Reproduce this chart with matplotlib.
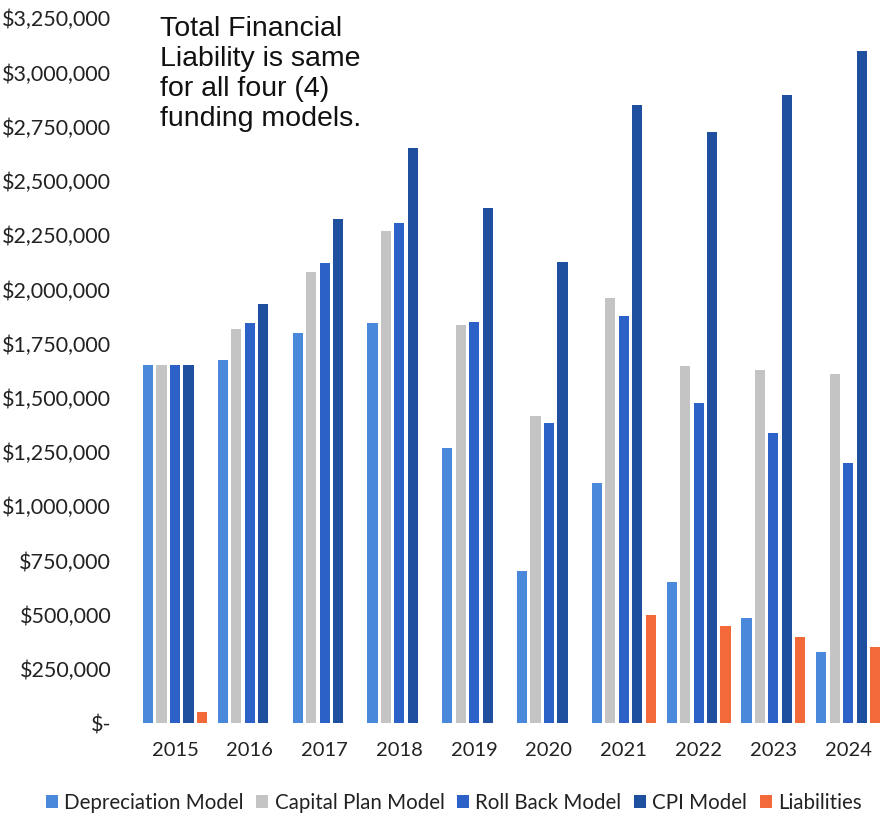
import matplotlib
matplotlib.use("Agg")
import matplotlib.pyplot as plt
from matplotlib.ticker import FuncFormatter, MultipleLocator
import numpy as np

years = ["2015", "2016", "2017", "2018", "2019", "2020", "2021", "2022", "2023", "2024"]

depreciation = [1650000, 1674000, 1797000, 1843000, 1267000, 702000, 1105000, 652000, 483000, 329000]
capital_plan = [1650000, 1817000, 2082000, 2269000, 1836000, 1416000, 1962000, 1648000, 1628000, 1610000]
roll_back = [1650000, 1846000, 2120000, 2305000, 1850000, 1385000, 1877000, 1474000, 1336000, 1198000]
cpi = [1650000, 1931000, 2325000, 2654000, 2374000, 2125000, 2850000, 2727000, 2897000, 3101000]
liabilities = [52000, 0, 0, 0, 0, 0, 498000, 447000, 398000, 352000]

series_names = ["Depreciation Model", "Capital Plan Model", "Roll Back Model", "CPI Model", "Liabilities"]
series_values = [depreciation, capital_plan, roll_back, cpi, liabilities]
colors = ["#4a88dc", "#c4c4c4", "#2c62c8", "#1f4f9f", "#f4693a"]

note = "Total Financial\nLiability is same\nfor all four (4)\nfunding models."

fig = plt.figure(figsize=(8.81, 8.17), dpi=100)
ax = fig.add_axes([0.1562, 0.115, 0.849, 0.8625])

x = np.arange(len(years))
step = 0.18
width = 0.135
for i, (name, vals, c) in enumerate(zip(series_names, series_values, colors)):
    ax.bar(x + (i - 2) * step, vals, width=width, color=c, label=name)

ax.set_xlim(-0.5, len(years) - 0.5)
ax.set_ylim(0, 3250000)
ax.yaxis.set_major_locator(MultipleLocator(250000))


def money(v, pos):
    if abs(v) < 1:
        return "$-"
    return "${:,.0f}".format(v)


ax.yaxis.set_major_formatter(FuncFormatter(money))
ax.set_xticks(x)
ax.set_xticklabels(years)

tick_font = ["Lato", "DejaVu Sans"]
for lbl in ax.get_yticklabels():
    lbl.set_fontfamily(tick_font)
    lbl.set_fontsize(15.5)
    lbl.set_color("#222222")
for lbl in ax.get_xticklabels():
    lbl.set_fontfamily(tick_font)
    lbl.set_fontsize(14.5)
    lbl.set_color("#222222")

ax.tick_params(axis="both", length=0)
ax.tick_params(axis="y", pad=19)
ax.tick_params(axis="x", pad=14)
for s in ax.spines.values():
    s.set_visible(False)

fig.text(0.182, 0.981, note, ha="left", va="top", fontsize=20.5,
         family=["Liberation Sans", "DejaVu Sans"], color="#111111",
         linespacing=1.2)

leg = fig.legend(loc="center", bbox_to_anchor=(0.515, 0.017), ncol=5, frameon=False,
                 handlelength=0.6, handleheight=0.6, handletextpad=0.3,
                 columnspacing=0.6, prop={"family": tick_font, "size": 14.8})
for t in leg.get_texts():
    t.set_color("#222222")

fig.savefig("out.png", dpi=100, facecolor="white")
